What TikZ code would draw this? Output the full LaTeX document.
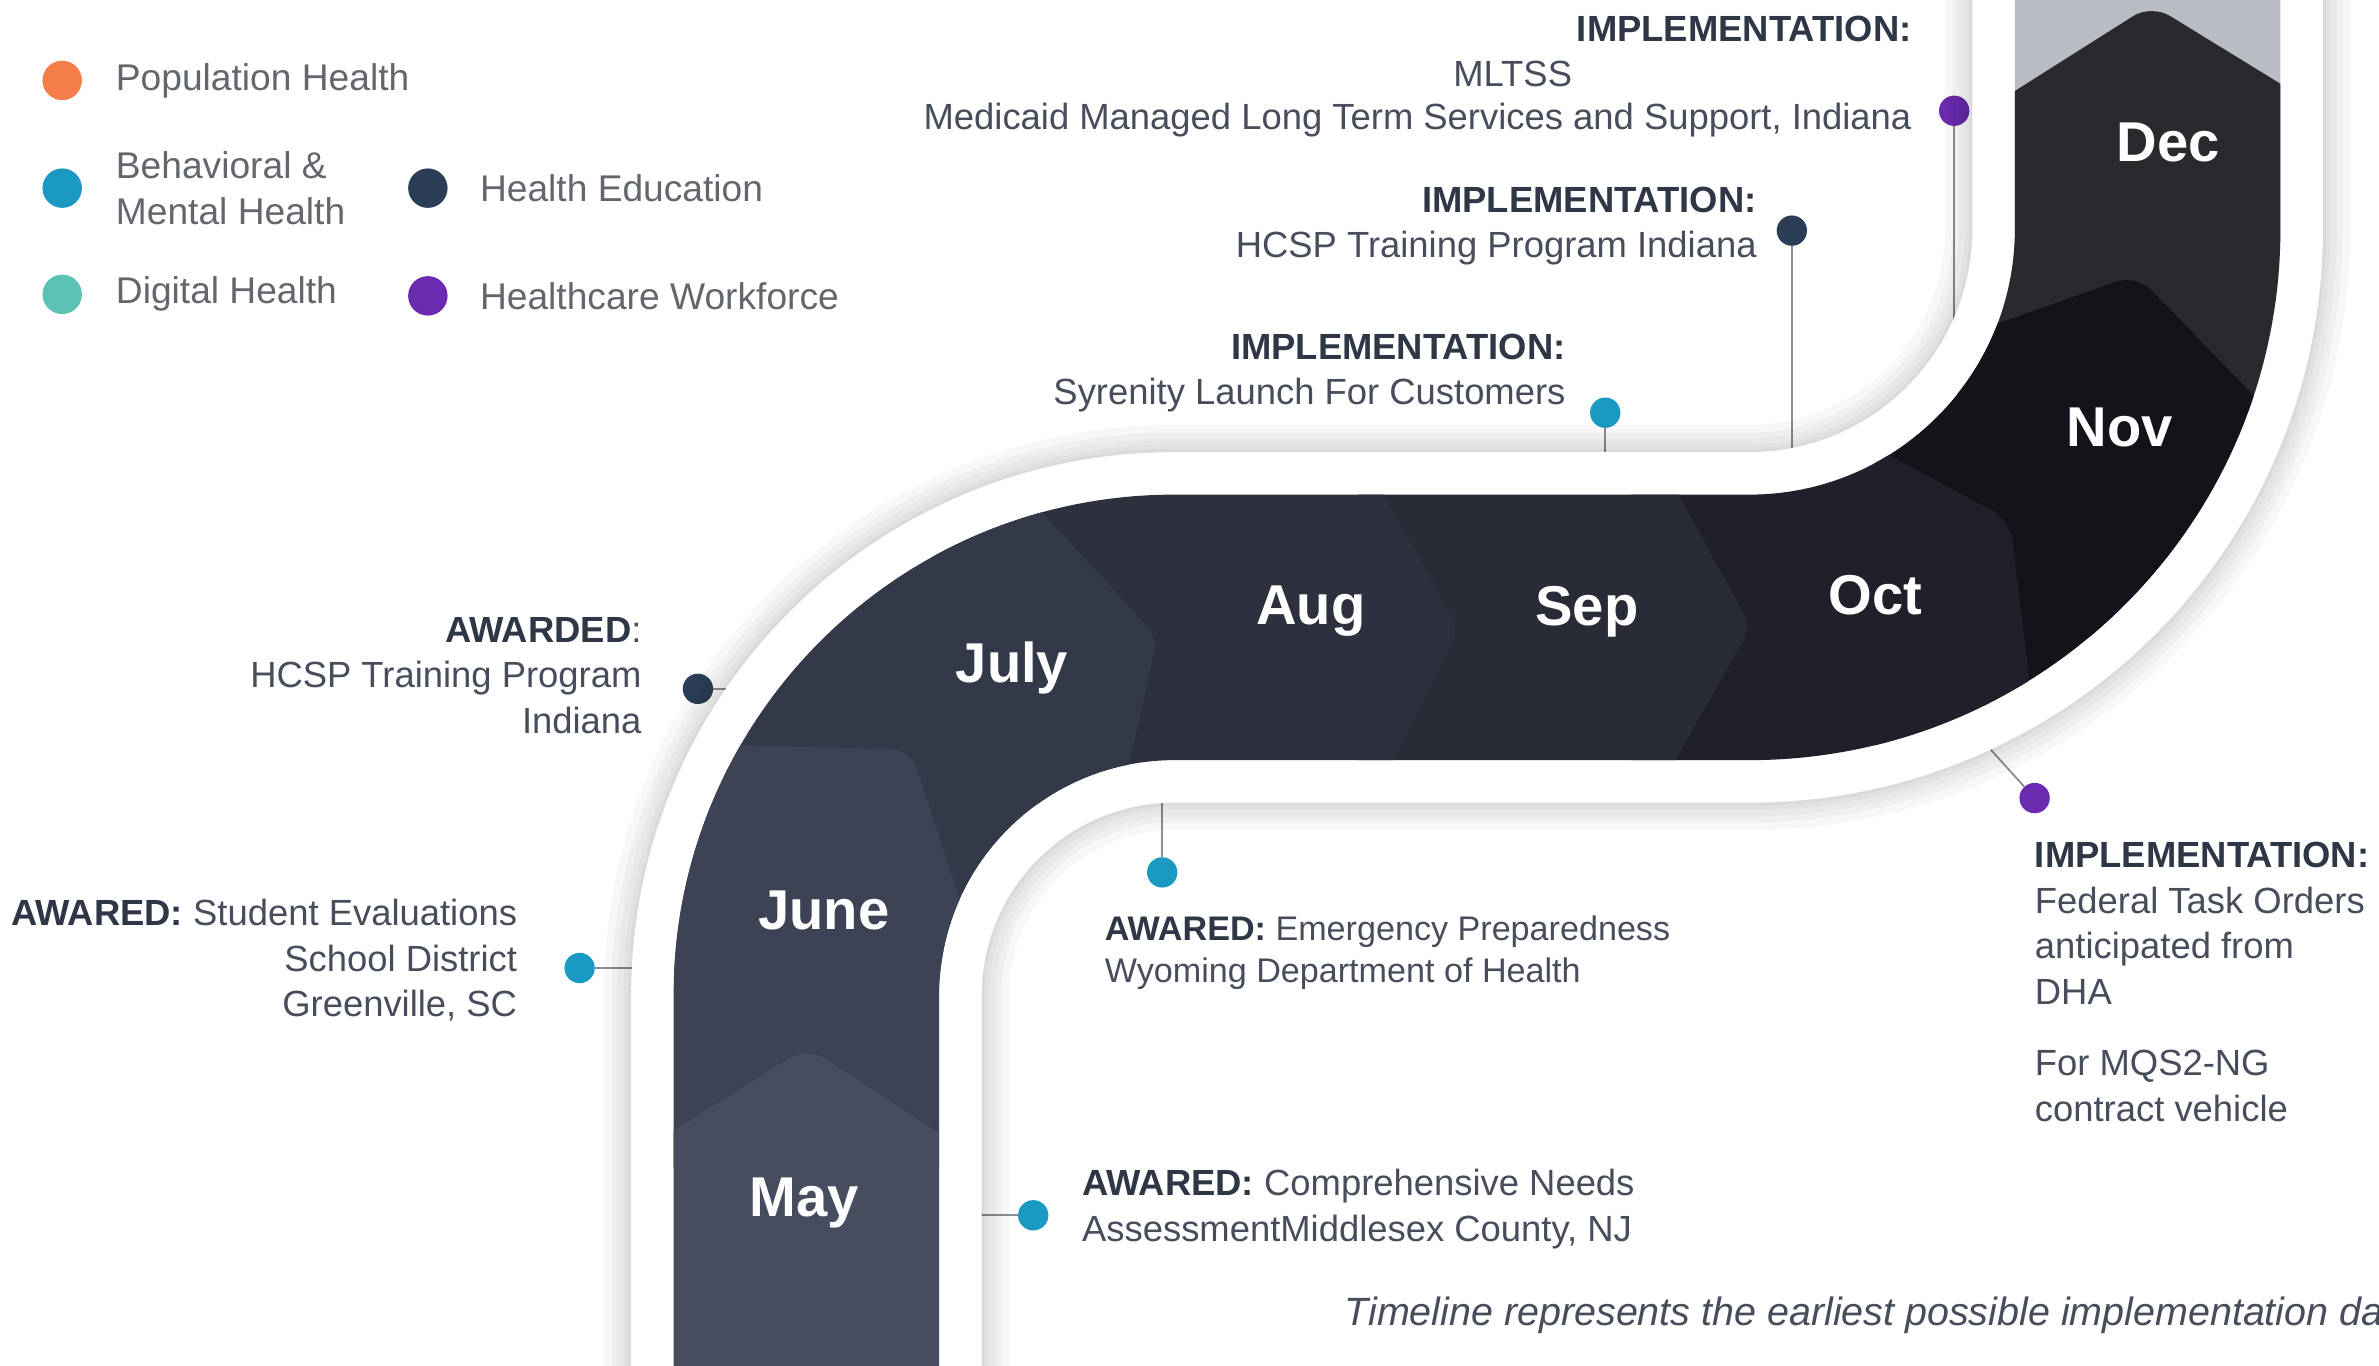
\documentclass[tikz,border=0pt]{standalone}
\usepackage{fontspec}
\setmainfont{Liberation Sans}
\usepackage{tikz}
\usetikzlibrary{positioning}

\definecolor{popcol}{HTML}{F47D4A}
\definecolor{behcol}{HTML}{1A9AC2}
\definecolor{digcol}{HTML}{5CC2B6}
\definecolor{educol}{HTML}{2C3E57}
\definecolor{wrkcol}{HTML}{6B2BB0}
\definecolor{headcol}{HTML}{2F3747}
\definecolor{bodycol}{HTML}{474D5A}
\definecolor{legcol}{HTML}{63676D}
\definecolor{linecol}{HTML}{8A8E96}
\definecolor{jancol}{HTML}{B9BCC2}
\definecolor{deccol}{HTML}{2A2A2E}
\definecolor{novcol}{HTML}{131419}
\definecolor{octcol}{HTML}{1F2029}
\definecolor{sepcol}{HTML}{292C37}
\definecolor{augcol}{HTML}{2D313E}
\definecolor{julcol}{HTML}{343949}
\definecolor{juncol}{HTML}{3D4354}
\definecolor{maycol}{HTML}{474D5F}

\tikzset{
        month/.style={text=white, font=\fontsize{37}{40}\selectfont\bfseries}, % month names on the band
        evtext/.style={text=bodycol, font=\fontsize{24}{30}\selectfont, inner sep=0pt},
        legtext/.style={text=legcol, font=\fontsize{24.5}{30}\selectfont, inner sep=0pt, anchor=west},
        stem/.style={draw=linecol, line width=1.2pt},
    }
\tikzstyle{evdot}=[circle,minimum size=20pt,inner sep=0pt]
\tikzstyle{legdot}=[circle,minimum size=26pt,inner sep=0pt]

\newcommand{\headtxt}[1]{\textcolor{headcol}{\bfseries #1}}
% outline of the S shaped band
\def\bandpath{(444,920) -- (444,656) arc[start angle=180,end angle=270,radius=330]
    -- (1153,326) arc[start angle=90,end angle=0,radius=175] -- (1328,-30) -- (1503,-30)
    -- (1503,151) arc[start angle=0,end angle=90,radius=350]
    -- (774,501) arc[start angle=270,end angle=180,radius=155] -- (619,920) -- cycle}

\begin{document}
\begin{tikzpicture}[x=1pt,y=-1pt]
    \useasboundingbox (0,0) rectangle (1568,900);
    \clip (0,0) rectangle (1568,900);

    % legend
    \node[legdot, fill=popcol] (dPop) at (41,53) {};
    \node[legtext, right=22pt of dPop] (tPop) {Population Health};
    \node[legdot, fill=behcol] (dBeh) at (41,124) {};
    \node[legtext, align=left, right=22pt of dBeh] (tBeh) {Behavioral \&\\Mental Health};
    \node[legdot, fill=digcol] (dDig) at (41,194) {};
    \node[legtext, right=22pt of dDig] (tDig) {Digital Health};
    \node[legdot, fill=educol] (dEdu) at (282,124) {};
    \node[legtext, right=21pt of dEdu] (tEdu) {Health Education};
    \node[legdot, fill=wrkcol] (dWrk) at (282,195) {};
    \node[legtext, right=21pt of dWrk] (tWrk) {Healthcare Workforce};

    % event dots and stems
    \node[evdot, fill=wrkcol] (dMlt) at (1288,73) {};
    \node[evdot, fill=educol] (dHcs) at (1181,152) {};
    \node[evdot, fill=behcol] (dSyr) at (1058,272) {};
    \node[evdot, fill=educol] (dAwd) at (460,454) {};
    \node[evdot, fill=behcol] (dStu) at (382,638) {};
    \node[evdot, fill=behcol] (dEme) at (766,575) {};
    \node[evdot, fill=behcol] (dCom) at (681,801) {};
    \node[evdot, fill=wrkcol] (dFed) at (1341,526) {};
    \coordinate (cMlt) at (1288,215);
    \coordinate (cHcs) at (1181,305);
    \coordinate (cSyr) at (1058,312);
    \coordinate (cAwd) at (500,454);
    \coordinate (cStu) at (428,638);
    \coordinate (cEme) at (766,520);
    \coordinate (cCom) at (636,801);
    \coordinate (cFed) at (1312,494);
    \draw[stem] (dMlt) -- (cMlt);
    \draw[stem] (dHcs) -- (cHcs);
    \draw[stem] (dSyr) -- (cSyr);
    \draw[stem] (dAwd) -- (cAwd);
    \draw[stem] (dStu) -- (cStu);
    \draw[stem] (dEme) -- (cEme);
    \draw[stem] (dCom) -- (cCom);
    \draw[stem] (dFed) -- (cFed);

    % band: shadow, white rim, month blocks
    \foreach \w in {92,82,74,66,60}
        \draw[line width=\w pt, black, opacity=0.03] \bandpath;
    \draw[line width=56pt, white] \bandpath;
    \begin{scope}
        \clip \bandpath;
        \fill[jancol] (1280,-40) rectangle (1560,200);
        \fill[deccol, rounded corners=14pt] (1290,84) -- (1418,3) -- (1545,81) -- (1545,420) -- (1290,420) -- cycle;
        \fill[novcol, rounded corners=14pt] (1235,242) -- (1408,181) -- (1545,322) -- (1545,600) -- (1235,600) -- cycle;
        \fill[octcol, rounded corners=14pt] (1075,265) -- (1180,265) -- (1325,343) -- (1338,452) -- (1338,600) -- (1075,600) -- cycle;
        \fill[sepcol, rounded corners=10pt] (895,300) -- (1092,300) -- (1154,413) -- (1088,530) -- (895,530) -- cycle;
        \fill[augcol, rounded corners=10pt] (615,300) -- (898,300) -- (962,415) -- (904,530) -- (615,530) -- cycle;
        \fill[julcol, rounded corners=10pt] (400,240) -- (596,240) -- (763,420) -- (736,540) -- (660,640) -- (400,640) -- cycle;
        \fill[juncol, rounded corners=12pt] (400,489) -- (600,494) -- (640,615) -- (640,770) -- (400,770) -- cycle;
        \fill[maycol, rounded corners=14pt] (400,773) -- (532,690) -- (660,774) -- (660,930) -- (400,930) -- cycle;
    \end{scope}

    \node[month] (may) at (530,793) {May};
    \node[month] (june) at (543,600) {June};
    \node[month] (july) at (667,440) {July};
    \node[month] (aug) at (864,403) {Aug};
    \node[month] (sep) at (1046,403) {Sep};
    \node[month] (oct) at (1236,392) {Oct};
    \node[month] (nov) at (1397,282) {Nov};
    \node[month] (dec) at (1429,94) {Dec};

    % event texts
    \node[evtext, anchor=east] (hMlt) at (1260,19) {\headtxt{IMPLEMENTATION:}};
    \node[evtext] (nMlt) at (997,49) {MLTSS};
    \node[evtext, anchor=east] (tMlt) at (1260,79) {Medicaid Managed Long Term Services and Support, Indiana};
    \node[evtext, align=right, anchor=east] (tHcs) at (1158,149) {\headtxt{IMPLEMENTATION:}\\HCSP Training Program Indiana};
    \node[evtext, align=right, anchor=east] (tSyr) at (1032,246) {\headtxt{IMPLEMENTATION:}\\Syrenity Launch For Customers};
    \node[evtext, align=right, anchor=east] (tAwd) at (423,445) {\headtxt{AWARDED}:\\HCSP Training Program\\Indiana};
    \node[evtext, align=right, anchor=east] (tStu) at (341,633) {\headtxt{AWARED:} Student Evaluations\\School District\\Greenville, SC};
    \node[evtext, align=left, anchor=west, font=\fontsize{22.5}{28}\selectfont] (tEme) at (728,628) {\headtxt{AWARED:} Emergency Preparedness\\Wyoming Department of Health};
    \node[evtext, align=left, anchor=west] (tCom) at (713,797) {\headtxt{AWARED:} Comprehensive Needs\\AssessmentMiddlesex County, NJ};
    \node[evtext, align=left, anchor=north west] (tFed) at (1341,555) {\headtxt{IMPLEMENTATION:}\\Federal Task Orders\\anticipated from\\DHA\\[17pt]For MQS2-NG\\contract vehicle};
    \node[evtext, anchor=west, font=\fontsize{26}{30}\selectfont\itshape] (foot) at (886,867) {Timeline represents the earliest possible implementation dates};
\end{tikzpicture}
\end{document}
